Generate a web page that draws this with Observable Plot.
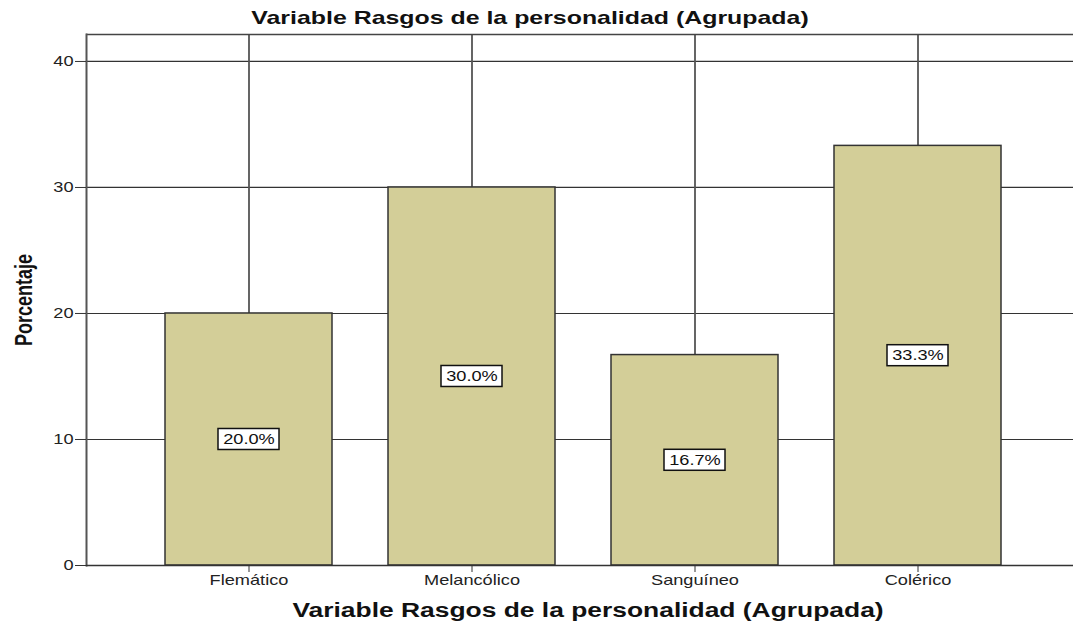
<!DOCTYPE html>
<html>
<head>
<meta charset="utf-8">
<script src="https://cdn.jsdelivr.net/npm/d3@7"></script>
<script src="https://cdn.jsdelivr.net/npm/@observablehq/plot@0.6"></script>
<style>
  html, body { margin: 0; padding: 0; background: #fff; overflow: hidden; }
  #wrap { position: relative; width: 1073px; height: 624px; }
  #chart { position: absolute; left: 0; top: 0; }
  .ttl { position: absolute; font-family: "Liberation Sans", Arial, sans-serif; font-weight: bold; line-height: 20px; color: #111; text-align: center; white-space: nowrap; z-index: 2; }
  #title { left: 0; width: 1060px; top: 8px; font-size: 19px; transform: scaleX(1.31); }
  #xlabel { left: 88px; width: 1000px; top: 600px; font-size: 20px; transform: scaleX(1.32); }
  #ylabel { position: absolute; left: 24px; top: 300px; width: 160px; text-align: center; font-family: "Liberation Sans", Arial, sans-serif; font-weight: bold; font-size: 18px; line-height: 18px; color: #111; white-space: nowrap; transform: translate(-50%, -50%) rotate(-90deg) scaleY(1.3); z-index: 2; }
</style>
</head>
<body>
<div id="wrap">
  <div id="chart"></div>
  <div id="title" class="ttl"></div>
  <div id="xlabel" class="ttl"></div>
  <div id="ylabel"></div>
</div>
<script>
const chartTitle = "Variable Rasgos de la personalidad (Agrupada)";
const xAxisLabel = "Variable Rasgos de la personalidad (Agrupada)";
const yAxisLabel = "Porcentaje";
const categories = ["Flemático", "Melancólico", "Sanguíneo", "Colérico"];
const percentages = [20.0, 30.0, 16.7, 33.3];
const yTicks = [0, 10, 20, 30, 40];
const yMax = 42.14;

document.getElementById("title").textContent = chartTitle;
document.getElementById("xlabel").textContent = xAxisLabel;
document.getElementById("ylabel").textContent = yAxisLabel;

const data = categories.map((c, i) => ({cat: c, val: percentages[i], label: percentages[i].toFixed(1) + "%"}));

const chart = Plot.plot({
  width: 1073,
  height: 624,
  marginTop: 34,
  marginBottom: 59,
  marginLeft: 86,
  marginRight: 0,
  style: {fontFamily: "Liberation Sans, Arial, sans-serif", fontSize: "14px", color: "#222", background: "#fff"},
  x: {type: "band", domain: categories, range: [86, 1080], paddingInner: 0.25, paddingOuter: 0.35, label: null},
  y: {domain: [0, yMax], label: null},
  marks: [
    Plot.gridY(yTicks.filter(t => t > 0), {stroke: "#333", strokeOpacity: 1, strokeWidth: 1.2}),
    Plot.gridX({stroke: "#555", strokeOpacity: 1, strokeWidth: 1.8}),
    Plot.ruleY([yMax], {stroke: "#444", strokeWidth: 1.5}),
    Plot.frame({anchor: "left", stroke: "#555", strokeWidth: 2}),
    Plot.barY(data, {x: "cat", y: "val", fill: "#d3ce98", stroke: "#333", strokeWidth: 1.5}),
    Plot.ruleY([0], {stroke: "#333", strokeWidth: 1.5}),
    Plot.barY(data, {x: "cat", y1: d => d.val / 2, y2: d => d.val / 2, insetLeft: 53, insetRight: 53, insetTop: -10.5, insetBottom: -10.5, fill: "white", stroke: "#111", strokeWidth: 1.5}),
    Plot.text(data, {x: "cat", y: d => d.val / 2, text: "label", fontSize: 14, fill: "#111"}),
    Plot.axisY(yTicks, {tickSize: 11, tickPadding: 2, fontSize: 14, label: null, stroke: "#333"}),
    Plot.axisX({tickSize: 7, tickPadding: 3, fontSize: 14, label: null, stroke: "#333"})
  ]
});
// widen glyphs horizontally (the reference's text is stretched), keeping each anchor in place
chart.querySelectorAll("text").forEach(t => {
  let x = parseFloat(t.getAttribute("x"));
  if (!isFinite(x)) x = 0;
  const tr = t.getAttribute("transform") || "";
  t.setAttribute("transform", `${tr} translate(${x},0) scale(1.3,1) translate(${-x},0)`.trim());
});
document.getElementById("chart").appendChild(chart);
</script>
</body>
</html>
